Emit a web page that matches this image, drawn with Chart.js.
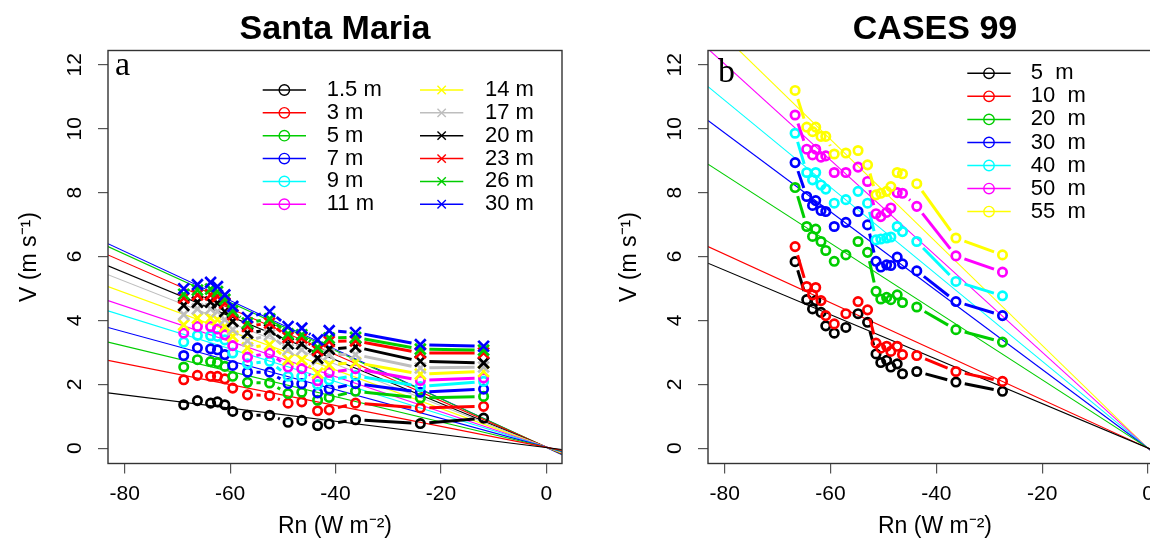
<!DOCTYPE html>
<html>
<head>
<meta charset="utf-8">
<script src="https://cdn.jsdelivr.net/npm/chart.js@4.4.1/dist/chart.umd.min.js"></script>
<style>
    html, body { margin: 0; padding: 0; background: #fff; overflow: hidden; width: 1150px; height: 543px; }
    .panel { position: absolute; top: 0; width: 600px; height: 543px; }
    #left { left: 0; }
    #right { left: 600px; }
</style>
</head>
<body>
<div class="panel" id="left"><canvas id="smChart" width="600" height="543"></canvas></div>
<div class="panel" id="right"><canvas id="csChart" width="600" height="543"></canvas></div>
<script>
// ---- Santa Maria (panel a) ----
const smRn = [-68.8, -66.2, -63.7, -62.4, -61.0, -59.5, -56.7, -52.5, -49.0, -46.4, -43.4, -41.2, -36.2, -23.9, -11.9];
const smV1_5 = [1.36, 1.49, 1.41, 1.45, 1.36, 1.15, 1.03, 1.03, 0.81, 0.87, 0.71, 0.76, 0.89, 0.77, 0.94];
const smV3   = [2.14, 2.28, 2.25, 2.25, 2.17, 1.88, 1.67, 1.65, 1.41, 1.45, 1.17, 1.20, 1.41, 1.26, 1.31];
const smV5   = [2.54, 2.77, 2.71, 2.68, 2.56, 2.25, 2.06, 2.04, 1.71, 1.75, 1.50, 1.59, 1.78, 1.57, 1.62];
const smV7   = [2.90, 3.14, 3.11, 3.08, 2.93, 2.59, 2.38, 2.38, 2.02, 2.02, 1.73, 1.85, 2.02, 1.75, 1.85];
const smV9   = [3.32, 3.53, 3.52, 3.50, 3.39, 2.98, 2.64, 2.72, 2.25, 2.25, 1.99, 2.14, 2.27, 1.93, 2.09];
const smV11  = [3.60, 3.81, 3.81, 3.73, 3.55, 3.21, 2.85, 2.98, 2.54, 2.49, 2.11, 2.37, 2.49, 2.12, 2.20];
const smV14  = [3.86, 4.07, 4.07, 4.02, 3.81, 3.50, 3.14, 3.24, 2.77, 2.77, 2.35, 2.61, 2.68, 2.32, 2.40];
const smV17  = [4.18, 4.36, 4.36, 4.28, 4.02, 3.71, 3.36, 3.55, 3.08, 3.08, 2.77, 2.93, 2.93, 2.51, 2.54];
const smV20  = [4.47, 4.57, 4.57, 4.54, 4.28, 3.97, 3.60, 3.71, 3.27, 3.27, 2.82, 3.10, 3.17, 2.72, 2.67];
const smV23  = [4.70, 4.80, 4.80, 4.75, 4.54, 4.18, 3.81, 3.92, 3.47, 3.45, 3.06, 3.34, 3.36, 2.98, 2.98];
const smV26  = [4.82, 4.95, 4.98, 4.90, 4.66, 4.30, 3.92, 4.05, 3.58, 3.55, 3.16, 3.45, 3.47, 3.10, 3.07];
const smV30  = [4.99, 5.12, 5.19, 5.06, 4.80, 4.44, 4.09, 4.28, 3.81, 3.76, 3.39, 3.68, 3.62, 3.24, 3.19];
const smLabels = ["1.5 m", "3 m", "5 m", "7 m", "9 m", "11 m", "14 m", "17 m", "20 m", "23 m", "26 m", "30 m"];
// fitted lines, value at left and right edge of the plot
const smFitStart = [1.73, 2.75, 3.32, 3.78, 4.30, 4.62, 5.06, 5.43, 5.71, 6.05, 6.31, 6.40];
const smFitEnd   = [-0.04, -0.07, -0.09, -0.10, -0.12, -0.13, -0.15, -0.16, -0.17, -0.18, -0.19, -0.21];
const smXRange = [-83.17, 2.98];

// ---- CASES 99 (panel b) ----
const csRn = [-66.7, -64.5, -63.4, -62.8, -61.8, -60.9, -59.3, -57.1, -54.8, -53.0, -51.4, -50.5, -49.4, -48.6, -47.4, -46.4, -43.7, -36.3, -27.5];
const csV5  = [5.84, 4.65, 4.36, 4.62, 4.25, 3.83, 3.60, 3.78, 4.21, 3.94, 2.95, 2.68, 2.75, 2.54, 2.64, 2.33, 2.40, 2.07, 1.78];
const csV10 = [6.31, 5.06, 4.80, 5.03, 4.62, 4.15, 3.89, 4.21, 4.59, 4.33, 3.29, 3.13, 3.19, 3.03, 3.19, 2.93, 2.90, 2.40, 2.09];
const csV20 = [8.16, 6.94, 6.63, 6.86, 6.47, 6.19, 5.85, 6.05, 6.47, 6.13, 4.91, 4.67, 4.72, 4.65, 4.80, 4.56, 4.42, 3.71, 3.32];
const csV30 = [8.94, 7.88, 7.60, 7.75, 7.44, 7.41, 6.94, 7.07, 7.41, 6.99, 5.85, 5.67, 5.74, 5.72, 5.98, 5.77, 5.55, 4.59, 4.15];
const csV40 = [9.86, 8.63, 8.40, 8.63, 8.24, 8.11, 7.67, 7.78, 8.04, 7.67, 6.52, 6.55, 6.58, 6.61, 6.94, 6.78, 6.47, 5.22, 4.77];
const csV50 = [10.43, 9.36, 9.18, 9.36, 9.11, 9.15, 8.63, 8.63, 8.80, 8.35, 7.34, 7.25, 7.38, 7.52, 8.00, 7.98, 7.57, 6.02, 5.51];
const csV55 = [11.20, 10.05, 9.91, 10.05, 9.76, 9.76, 9.21, 9.24, 9.32, 8.87, 7.93, 7.98, 8.04, 8.19, 8.63, 8.59, 8.28, 6.58, 6.05];
const csLabels = ["5  m", "10  m", "20  m", "30  m", "40  m", "50  m", "55  m"];
const csFitStart = [5.79, 6.31, 8.89, 10.26, 11.32, 12.50, 13.40];
const csFitEnd   = [-0.18, -0.20, -0.28, -0.33, -0.36, -0.40, -0.43];
const csXRange = [-83.16, 2.65];

const yRange = [-0.48, 12.45];
const yTicks = 2, xTicks = 20;

const FONT = "'Liberation Sans', Arial, Helvetica, sans-serif";
Chart.defaults.font.family = FONT;
Chart.defaults.color = "#000";

const rColors = ["#000000", "#FF0000", "#00CD00", "#0000FF", "#00FFFF", "#FF00FF", "#FFFF00", "#BEBEBE", "#000000", "#FF0000", "#00CD00", "#0000FF"];

// R type="b": line segments that stop short of each point
const typeB = {
    id: "typeB",
    afterDatasetDraw(chart, args) {
        const ds = chart.data.datasets[args.index];
        if (!ds.gap) return;
        const pts = args.meta.data;
        const ctx = chart.ctx;
        const a = chart.chartArea;
        ctx.save();
        ctx.beginPath();
        ctx.rect(a.left, a.top, a.right - a.left, a.bottom - a.top);
        ctx.clip();
        ctx.strokeStyle = ds.borderColor;
        ctx.lineWidth = ds.segWidth;
        for (let k = 1; k < pts.length; k++) {
            const p = pts[k - 1], q = pts[k];
            const dx = q.x - p.x, dy = q.y - p.y;
            const len = Math.hypot(dx, dy);
            if (len <= 2 * ds.gap + 1) continue;
            const ux = dx / len, uy = dy / len;
            ctx.beginPath();
            ctx.moveTo(p.x + ux * ds.gap, p.y + uy * ds.gap);
            ctx.lineTo(q.x - ux * ds.gap, q.y - uy * ds.gap);
            ctx.stroke();
        }
        ctx.restore();
    }
};

function drawMarker(ctx, style, x, y, r) {
    ctx.beginPath();
    if (style === "circle") {
        ctx.arc(x, y, r, 0, Math.PI * 2);
    } else {
        const d = r * 0.8;
        ctx.moveTo(x - d, y - d); ctx.lineTo(x + d, y + d);
        ctx.moveTo(x - d, y + d); ctx.lineTo(x + d, y - d);
    }
    ctx.stroke();
}

function makeDecor(letter, letterPos, legend) {
    return {
        id: "decor",
        afterDraw(chart) {
            const ctx = chart.ctx;
            const a = chart.chartArea;
            ctx.save();
            ctx.strokeStyle = "#333";
            ctx.lineWidth = 1.4;
            ctx.strokeRect(a.left, a.top, a.right - a.left, a.bottom - a.top);

            ctx.fillStyle = "#000";
            ctx.font = "34px 'Liberation Serif', 'Times New Roman', serif";
            ctx.textAlign = "left";
            ctx.textBaseline = "alphabetic";
            ctx.fillText(letter, letterPos[0], letterPos[1]);

            ctx.font = "22px " + FONT;
            ctx.textBaseline = "middle";
            legend.items.forEach((it, i) => {
                const col = legend.cols[Math.floor(i / legend.perCol)];
                const y = legend.y0 + (i % legend.perCol) * legend.dy;
                ctx.strokeStyle = it.color;
                ctx.lineWidth = 1.5;
                ctx.beginPath();
                ctx.moveTo(col.x0, y); ctx.lineTo(col.x1, y);
                ctx.stroke();
                ctx.lineWidth = 1.4;
                drawMarker(ctx, it.style, (col.x0 + col.x1) / 2, y, 5.2);
                ctx.fillStyle = "#000";
                ctx.fillText(it.label, col.tx, y);
            });
            ctx.restore();
        }
    };
}

function buildDatasets(xs, series, colors, styles, fitStart, fitEnd, xRange) {
    const sets = [];
    series.forEach((ys, i) => {
        const circle = styles[i] === "circle";
        sets.push({
            label: "pts" + i,
            data: xs.map((x, k) => ({ x: x, y: ys[k] })),
            showLine: false,
            pointStyle: styles[i],
            pointRadius: circle ? 4.2 : 7.6,
            pointBorderWidth: 2.7,
            borderWidth: 2.7,
            borderColor: colors[i],
            pointBorderColor: colors[i],
            pointBackgroundColor: "rgba(0,0,0,0)",
            gap: 9,
            segWidth: 3,
            order: -i
        });
        sets.push({
            label: "fit" + i,
            data: [{ x: xRange[0], y: fitStart[i] }, { x: xRange[1], y: fitEnd[i] }],
            showLine: true,
            borderColor: colors[i],
            borderWidth: 1.1,
            pointRadius: 0,
            order: 100 + i
        });
    });
    return sets;
}

function buildChart(id, title, datasets, xRange, decor) {
    return new Chart(document.getElementById(id), {
        type: "scatter",
        data: { datasets: datasets },
        plugins: [typeB, decor],
        options: {
            responsive: false,
            animation: false,
            events: [],
            layout: { padding: { left: 0, top: 0, right: 38, bottom: 0 } },
            plugins: {
                legend: { display: false },
                tooltip: { enabled: false },
                title: {
                    display: true,
                    text: title,
                    fullSize: false,
                    color: "#000",
                    font: { size: 34, weight: "bold" },
                    padding: { top: 9.6, bottom: 0.1 }
                }
            },
            scales: {
                x: {
                    type: "linear",
                    min: xRange[0],
                    max: xRange[1],
                    ticks: { stepSize: xTicks, includeBounds: false, maxRotation: 0, padding: 8, font: { size: 21 }, color: "#000" },
                    grid: { drawOnChartArea: false, drawTicks: true, tickLength: 10, color: "#555", lineWidth: 1.2 },
                    border: { display: false },
                    title: { display: true, text: "Rn (W m⁻²)", color: "#000", font: { size: 23 }, padding: { top: 0, bottom: 3 } },
                    afterFit(s) { s.height = 79.5; }
                },
                y: {
                    type: "linear",
                    min: yRange[0],
                    max: yRange[1],
                    ticks: { stepSize: yTicks, includeBounds: false, minRotation: 90, maxRotation: 90, crossAlign: "center", padding: 11, font: { size: 21 }, color: "#000" },
                    grid: { drawOnChartArea: false, drawTicks: true, tickLength: 10, color: "#555", lineWidth: 1.2 },
                    border: { display: false },
                    title: { display: true, text: "V (m s⁻¹)", color: "#000", font: { size: 23 }, padding: { top: 16, bottom: 0 } },
                    afterFit(s) { s.width = 108; }
                }
            }
        }
    });
}

const smSeries = [smV1_5, smV3, smV5, smV7, smV9, smV11, smV14, smV17, smV20, smV23, smV26, smV30];
const smStyles = smSeries.map((s, i) => i < 6 ? "circle" : "crossRot");
const smLegend = {
    perCol: 6, y0: 90, dy: 22.85,
    cols: [{ x0: 262.7, x1: 306, tx: 326.7 }, { x0: 420, x1: 463.3, tx: 485 }],
    items: smLabels.map((l, i) => ({ label: l, color: rColors[i], style: smStyles[i] === "circle" ? "circle" : "cross" }))
};
buildChart("smChart", "Santa Maria",
    buildDatasets(smRn, smSeries, rColors, smStyles, smFitStart, smFitEnd, smXRange),
    smXRange, makeDecor("a", [115, 75], smLegend));

const csSeries = [csV5, csV10, csV20, csV30, csV40, csV50, csV55];
const csStyles = csSeries.map(() => "circle");
const csLegend = {
    perCol: 7, y0: 73.3, dy: 23.05,
    cols: [{ x0: 367.3, x1: 410.7, tx: 430.7 }],
    items: csLabels.map((l, i) => ({ label: l, color: rColors[i], style: "circle" }))
};
buildChart("csChart", "CASES 99",
    buildDatasets(csRn, csSeries, rColors, csStyles, csFitStart, csFitEnd, csXRange),
    csXRange, makeDecor("b", [118, 82], csLegend));
</script>
</body>
</html>
